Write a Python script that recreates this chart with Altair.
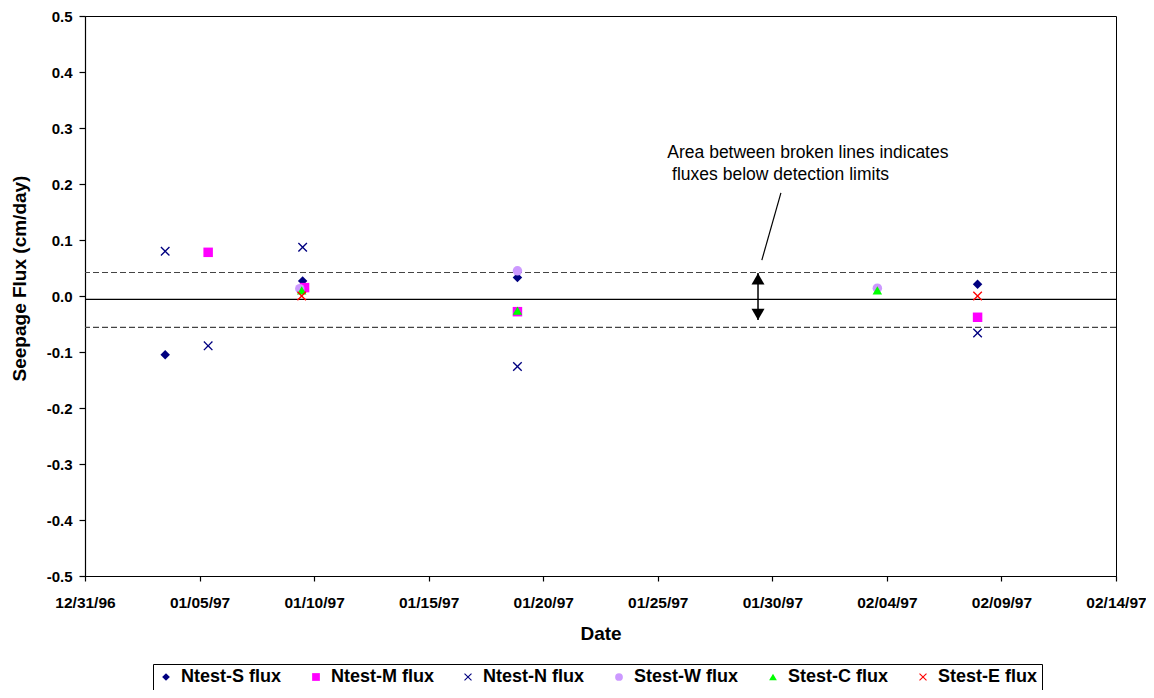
import altair as alt
import pandas as pd

# ---------------- data ----------------
series_names = ["Ntest-S flux", "Ntest-M flux", "Ntest-N flux",
                "Stest-W flux", "Stest-C flux", "Stest-E flux"]
series_colors = ["#000080", "#FF00FF", "#000080", "#CC99FF", "#00FF00", "#FF0000"]
X_PATH = ("M0,-0.2L0.8,-1L1,-0.8L0.2,0L1,0.8L0.8,1L0,0.2L-0.8,1"
          "L-1,0.8L-0.2,0L-1,-0.8L-0.8,-1Z")
series_shapes = ["diamond", "square", X_PATH, "circle", "triangle-up", X_PATH]

ntest_s_dates = ["1997-01-03T12:00:00", "1997-01-09T12:00:00",
                 "1997-01-18T21:00:00", "1997-02-07T23:00:00"]
ntest_s_flux = [-0.105, 0.027, 0.033, 0.021]

ntest_m_dates = ["1997-01-05T09:00:00", "1997-01-09T14:00:00",
                 "1997-01-18T21:00:00", "1997-02-07T23:00:00"]
ntest_m_flux = [0.078, 0.015, -0.028, -0.038]

ntest_n_dates = ["1997-01-03T12:00:00", "1997-01-05T09:00:00", "1997-01-09T12:00:00",
                 "1997-01-18T21:00:00", "1997-02-07T23:00:00"]
ntest_n_flux = [0.080, -0.089, 0.087, -0.126, -0.066]

stest_w_dates = ["1997-01-09T09:00:00", "1997-01-18T21:00:00", "1997-02-03T14:00:00"]
stest_w_flux = [0.013, 0.045, 0.014]

stest_c_dates = ["1997-01-09T11:00:00", "1997-01-18T21:00:00", "1997-02-03T14:00:00"]
stest_c_flux = [0.010, -0.026, 0.010]

stest_e_dates = ["1997-01-09T11:00:00", "1997-02-07T23:00:00"]
stest_e_flux = [0.0, 0.0]

mean_flux = [-0.006]
limit_flux = [0.042, -0.056]

note_lines = ["Area between broken lines indicates", "fluxes below detection limits"]
note_dates = ["1997-01-25T10:00:00", "1997-01-25T15:00:00"]
note_flux = [0.2557, 0.216]

pointer_dates = ["1997-01-30T09:00:00", "1997-01-29T13:00:00"]
pointer_flux = [0.184, 0.064]

arrow_date = "1997-01-29T09:00:00"
arrow_flux = [0.041, -0.043]
arrow_head_flux = [0.0304, -0.033]

tick_dates = [(1996, 12, 31), (1997, 1, 5), (1997, 1, 10), (1997, 1, 15), (1997, 1, 20),
              (1997, 1, 25), (1997, 1, 30), (1997, 2, 4), (1997, 2, 9), (1997, 2, 14)]
y_ticks = [-0.5, -0.4, -0.3, -0.2, -0.1, 0.0, 0.1, 0.2, 0.3, 0.4, 0.5]

# ---------------- tables ----------------
rows = []
for name, ds, vs in zip(series_names,
                        [ntest_s_dates, ntest_m_dates, ntest_n_dates,
                         stest_w_dates, stest_c_dates, stest_e_dates],
                        [ntest_s_flux, ntest_m_flux, ntest_n_flux,
                         stest_w_flux, stest_c_flux, stest_e_flux]):
    for d, v in zip(ds, vs):
        rows.append({"date": d, "flux": v, "series": name})
pts = pd.DataFrame(rows)

FONT = "Liberation Sans"
dt = lambda t: alt.DateTime(year=t[0], month=t[1], date=t[2])

x_enc = alt.X("date:T",
              scale=alt.Scale(domain=[dt(tick_dates[0]), dt(tick_dates[-1])]),
              axis=alt.Axis(title="Date", values=[dt(t) for t in tick_dates],
                            format="%m/%d/%y", labelFontSize=15.5, labelPadding=14,
                            tickSize=5, titleFontSize=19, titlePadding=14,
                            labelFlush=False, labelOverlap=False, grid=False))
y_enc = alt.Y("flux:Q",
              scale=alt.Scale(domain=[-0.5, 0.5], nice=False, zero=False),
              axis=alt.Axis(title="Seepage Flux (cm/day)", values=y_ticks,
                            labelExpr="datum.value < -0.00001 ? '-' + format(-datum.value, '.1f') : format(abs(datum.value), '.1f')",
                            labelFontSize=15, labelPadding=7, tickSize=6,
                            titleFontSize=19, titlePadding=12, grid=False,
                            titleX=-56, titleY=262))

legend = alt.Legend(title=None, orient="none", legendX=68, legendY=648,
                    direction="horizontal", columns=6)

points = alt.Chart(pts).mark_point(filled=True, size=90, opacity=1).encode(
    x=x_enc, y=y_enc,
    color=alt.Color("series:N", scale=alt.Scale(domain=series_names, range=series_colors),
                    legend=legend),
    shape=alt.Shape("series:N", scale=alt.Scale(domain=series_names, range=series_shapes),
                    legend=legend),
)

mean_rule = alt.Chart(pd.DataFrame({"flux": mean_flux})).mark_rule(
    color="black", strokeWidth=1.3).encode(y="flux:Q")
limit_rule = alt.Chart(pd.DataFrame({"flux": limit_flux})).mark_rule(
    color="#444444", strokeWidth=1.2, strokeDash=[6, 3]).encode(y="flux:Q")

notes = alt.Chart(pd.DataFrame({"date": note_dates, "flux": note_flux, "label": note_lines})
                  ).mark_text(align="left", baseline="middle", font=FONT, fontSize=17.5,
                              color="black").encode(x="date:T", y="flux:Q", text="label:N")

pointer = alt.Chart(pd.DataFrame({"date": [pointer_dates[0]], "flux": [pointer_flux[0]],
                                  "date2": [pointer_dates[1]], "flux2": [pointer_flux[1]]})
                    ).mark_rule(color="black", strokeWidth=1.2).encode(
    x="date:T", x2="date2:T", y="flux:Q", y2="flux2:Q")

shaft = alt.Chart(pd.DataFrame({"date": [arrow_date], "flux": [arrow_flux[0]],
                                "flux2": [arrow_flux[1]]})
                  ).mark_rule(color="black", strokeWidth=1.5).encode(
    x="date:T", y="flux:Q", y2="flux2:Q")

head_up = alt.Chart(pd.DataFrame({"date": [arrow_date], "flux": [arrow_head_flux[0]]})
                    ).mark_point(shape="triangle-up", filled=True, size=169, color="black",
                                 opacity=1).encode(x="date:T", y="flux:Q")
head_down = alt.Chart(pd.DataFrame({"date": [arrow_date], "flux": [arrow_head_flux[1]]})
                      ).mark_point(shape="triangle-down", filled=True, size=169, color="black",
                                   opacity=1).encode(x="date:T", y="flux:Q")

chart = alt.layer(limit_rule, mean_rule, pointer, shaft, head_up, head_down, notes, points
                  ).properties(
    width=1031, height=560,
    autosize=alt.AutoSizeParams(type="none"),
    padding={"left": 77, "top": 8, "right": 30, "bottom": 114},
).configure_view(
    stroke="black", strokeWidth=1
).configure_axis(
    labelFont=FONT, labelFontWeight="bold", labelColor="black",
    titleFont=FONT, titleFontWeight="bold", titleColor="black",
    domainColor="black", domainWidth=1.2, tickColor="black", tickWidth=1.2,
).configure_legend(
    labelFont=FONT, labelFontWeight="bold", labelFontSize=18, labelColor="black",
    symbolSize=60, symbolStrokeWidth=0, labelOffset=6, columnPadding=25,
    padding=4, strokeColor="black", fillColor="white",
)

chart.save("out.html", embed_options={"renderer": "svg", "actions": False})
